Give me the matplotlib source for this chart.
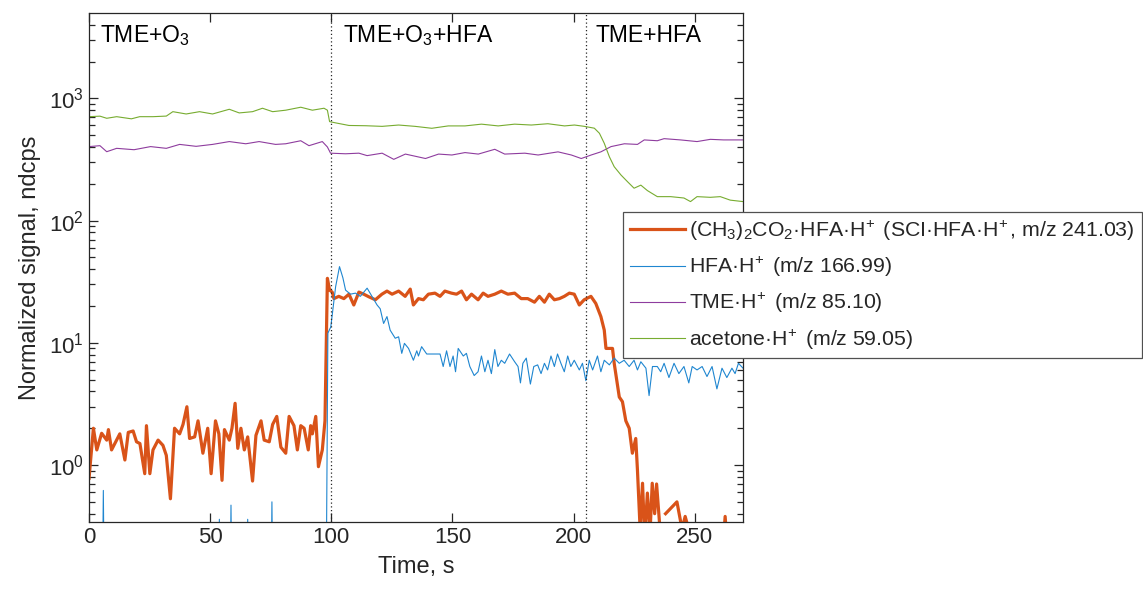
import numpy as np
import matplotlib
matplotlib.use("Agg")
import matplotlib.pyplot as plt
from matplotlib.ticker import FixedLocator, NullFormatter

# ── Data ─────────────────────────────────────────────────────
# SCI·HFA·H+ (orange, thick)
t_sci = [0, 1.8, 3.2, 5.2, 7.3, 8, 9.3, 11.4, 12.7, 14.8, 16.2, 18.2, 19.6, 21,
         23, 23.7, 25.1, 26.4, 28.5, 30.5, 31.9, 33.6, 35.3, 37.4, 38.8, 40.4,
         41.5, 43.6, 45, 47, 49, 50.4, 52.2, 53.6, 54.9, 55.9, 57.9, 59, 60.3,
         61.4, 62.7, 64.1, 65.5, 67.5, 68.9, 71, 72.3, 74.4, 75.8, 77.5, 79.2,
         81.2, 82.6, 84.6, 86, 87.4, 88.8, 90.5, 91.5, 92.2, 93.6, 94.7, 96.3,
         97.4, 98.4, 99.3, 100.4, 101.1, 103.1, 105.2, 107.3, 109.3, 111.4,
         113.4, 115.5, 118.2, 120.9, 123, 125.1, 127.8, 130.5, 132.6, 133.9,
         136, 138, 140.1, 142.8, 144.9, 146.9, 149.6, 151.7, 153.8, 155.8,
         157.9, 160.6, 162.7, 164.7, 167.5, 170.2, 172.9, 175.7, 178.4, 181.1,
         183.9, 185.9, 188, 190, 192.1, 194.2, 196.2, 198.3, 200.3, 202.4,
         204.4, 207.2, 209.2, 211.3, 212.7, 213.4, 216.1, 216.8, 218.9, 220.2,
         221.6, 223, 224.3, 225.7, 226.4, 227.5, 228.5, 229.4, 230.5, 231.6,
         232.5, 233.5, 234.3, 235.7, 237, 238, 242.7, 244.8, 246.1, 247.5, 252,
         261.6, 262.6, 263.6, 270]
v_sci = [0.78, 2.0, 1.33, 1.82, 1.6, 1.95, 1.33, 1.6, 1.8, 1.1, 1.85, 1.9, 1.55,
         1.5, 0.85, 2.1, 0.85, 1.33, 1.6, 1.45, 1.2, 0.53, 2.0, 1.8, 2.15, 3.0,
         1.65, 1.7, 2.3, 1.25, 2.0, 0.85, 2.3, 1.8, 0.75, 1.95, 1.6, 2.0, 3.2,
         1.37, 2.0, 1.33, 1.7, 0.74, 1.75, 2.3, 1.6, 1.55, 2.15, 2.5, 1.4,
         1.25, 2.5, 2.1, 1.33, 2.1, 2.0, 1.33, 2.1, 1.8, 2.5, 0.97, 1.33,
         2.3, 33.7, 27, 26, 23, 24, 23, 25, 20.4, 26,
         25, 23.8, 22.5, 25, 26.5, 25, 26.5, 24, 27.5, 20.4,
         23, 22.5, 25, 25.5, 24, 26.5, 25.5, 25, 26.5, 22.5,
         25, 22.5, 25.5, 24, 25, 26.5, 25, 25.5, 23, 23,
         21.5, 24, 21.5, 25, 22.5, 23, 24, 25.5, 25, 20.4,
         22.5, 24, 21, 16.4, 12.7, 9.0, 9.0, 6.8, 3.6, 3.3,
         2.3, 2.0, 1.25, 1.65, 0.91, 0.3, 0.71, 0.25, 0.59, 0.28,
         0.71, 0.40, 0.70, 0.3, np.nan, 0.40, 0.5, 0.3, 0.38, 0.3, 0.2,
         0.2, 0.38, 0.2, 0.2]

# HFA·H+ (blue)
t_hfa = [0, 5.4, 5.9, 6.4, 53.4, 53.8, 54.2, 58.1, 58.6, 59.1, 65.1, 65.5,
         65.9, 75.0, 75.5, 76.0, 97.8, 98.6, 99.8, 101.8, 103.4, 104.8, 105.9,
         107.9, 110, 112, 114.8, 116.8, 118.9, 120.2, 121.6, 123, 124.3, 126.4,
         127.8, 129.1, 130.2, 131.9, 133.9, 135.3, 136, 137.3, 139.4, 142.8,
         144.9, 146.2, 147.6, 149, 150.3, 151.3, 152.4, 154.5, 155.8, 157.2,
         159, 160.6, 162, 163.4, 164.7, 166.1, 167.5, 168.8, 170.2, 171.6,
         173.6, 175.7, 177.1, 178.1, 179.1, 180.5, 182.2, 183.6, 185.2, 186.6,
         188, 189.3, 190.7, 192.1, 193.4, 194.8, 196.2, 197.6, 198.9, 200.3,
         202.4, 203.7, 205.1, 206.5, 207.9, 209.9, 211.3, 212.7, 214.8, 216.8,
         218.9, 220.9, 223, 225, 226.4, 227.8, 229.9, 231.2, 232.6, 234.6, 236,
         237.4, 239.4, 241.5, 243.5, 245.6, 247.6, 249, 251, 253.1, 255.1,
         257.2, 259.2, 261.3, 263.3, 265.4, 266.7, 268.1, 270]
v_hfa = [0.05, 0.05, 0.62, 0.05, 0.05, 0.36, 0.05, 0.05, 0.47, 0.05, 0.05, 0.36,
         0.05, 0.05, 0.5, 0.05, 0.05, 12, 13.5, 28.8, 42, 34, 27,
         25, 25.5, 24, 28, 24, 20.4, 19, 14.4, 16.4, 12.7, 10.9,
         11.2, 8.2, 9.9, 9.0, 7.2, 8.6, 7.8, 9.3, 8.1, 8.1,
         8.1, 6.4, 8.6, 6.4, 7.8, 5.8, 9.0, 7.8, 8.2, 6.4,
         5.4, 5.8, 7.8, 5.8, 7.2, 5.6, 8.8, 6.4, 7.2, 6.8,
         8.1, 7.0, 6.4, 4.7, 6.8, 7.5, 4.6, 6.4, 6.6, 5.6,
         6.8, 6.0, 7.8, 6.4, 8.1, 6.8, 5.8, 7.8, 6.4, 7.2,
         6.0, 6.8, 4.9, 7.2, 6.0, 7.8, 5.8, 7.2, 6.6, 7.5,
         6.8, 7.2, 6.4, 7.2, 6.0, 7.0, 6.2, 3.7, 6.4, 6.4, 5.8,
         6.8, 5.2, 6.8, 5.6, 6.4, 4.7, 6.4, 6.0, 6.4, 5.3,
         6.4, 4.2, 6.2, 5.2, 6.2, 5.6, 6.8, 6.2]

# TME·H+ (purple)
t_tme = [0, 4.5, 7.3, 11.4, 18.6, 25.4, 31.9, 37.4, 44.2, 51, 57.9, 64.7, 70.2,
         77, 81.2, 87.4, 90.8, 96.3, 98.4, 99.7, 105.9, 111.4, 114.8, 121,
         125.8, 130.6, 138.9, 144.3, 149.8, 155.2, 160.7, 167.5, 171.6, 179.9,
         185.4, 193.6, 199.1, 203.2, 207.3, 211.3, 215.5, 221, 226.4, 229.2,
         234.6, 237.4, 244.2, 251, 256.5, 262, 270]
v_tme = [403, 410, 366, 390, 380, 403, 390, 420, 405, 420, 443, 425, 443,
         420, 425, 450, 410, 443, 400, 356, 352, 356, 340, 356,
         317, 350, 322, 350, 344, 360, 350, 383, 350, 356,
         344, 365, 344, 322, 344, 365, 403, 425, 420, 457,
         450, 468, 457, 443, 462, 457, 457]

# acetone·H+ (green)
t_ace = [0, 4.5, 7.3, 11.4, 17.5, 20.9, 26.4, 31.9, 34.6, 40.1, 45.6, 51, 57.9,
         62, 67.5, 71.6, 75.8, 81.2, 87.4, 92.2, 97, 98.4, 99.3, 101.8, 107.3,
         114.2, 121, 127.8, 134.6, 141.5, 148.3, 155.2, 162, 168.9, 175.7,
         182.6, 189.4, 196.3, 200.4, 204.5, 208.6, 210.7, 212.7, 214.8, 216.8,
         219.6, 222.3, 225, 227.8, 230.5, 234.6, 240.1, 245.6, 248.3, 251,
         256.5, 260.6, 264.7, 270]
v_ace = [708, 715, 687, 708, 680, 708, 708, 716, 778, 745, 778, 745, 814,
         760, 778, 830, 778, 800, 846, 800, 830, 800, 645, 630, 600,
         597, 590, 605, 590, 569, 595, 595, 615, 595, 615,
         605, 620, 595, 605, 590, 570, 518, 429, 333, 276,
         236, 208, 184, 195, 176, 157, 157, 153, 143, 157,
         155, 157, 147, 143]

phase_starts = [100, 205]
phase_labels = ["TME+O$_3$", "TME+O$_3$+HFA", "TME+HFA"]
phase_label_x = [4.5, 105, 209]

labels = [
    r"(CH$_3$)$_2$CO$_2$·HFA·H$^{\!+}$ (SCI·HFA·H$^{\!+}$, m/z 241.03)",
    r"HFA·H$^{\!+}$ (m/z 166.99)",
    r"TME·H$^{\!+}$ (m/z 85.10)",
    r"acetone·H$^{\!+}$ (m/z 59.05)",
]

# ── Style ────────────────────────────────────────────────────
plt.rcParams["font.family"] = ["Liberation Sans", "DejaVu Sans"]
plt.rcParams["mathtext.fontset"] = "custom"
plt.rcParams["mathtext.rm"] = "Liberation Sans"
plt.rcParams["mathtext.it"] = "Liberation Sans:italic"
plt.rcParams["mathtext.bf"] = "Liberation Sans:bold"
ink = "#262626"

fig = plt.figure(figsize=(11.43, 5.97), dpi=100)
ax = fig.add_axes([0.0779, 0.1256, 0.5722, 0.8526])

l1, = ax.plot(t_sci, v_sci, color="#D95319", lw=2.3)
l2, = ax.plot(t_hfa, v_hfa, color="#1f86d0", lw=0.8)
l3, = ax.plot(t_tme, v_tme, color="#8e3c9e", lw=0.8)
l4, = ax.plot(t_ace, v_ace, color="#77AC30", lw=0.8)

for x in phase_starts:
    ax.axvline(x, color=ink, lw=0.9, linestyle=(0, (1, 2)))

for x, s in zip(phase_label_x, phase_labels):
    ax.text(x, 0.943, s, transform=ax.get_xaxis_transform(),
            fontsize=16.5, color="black", va="baseline", ha="left")

ax.set_yscale("log")
ax.set_xlim(0, 270)
ax.set_xticks([0, 50, 100, 150, 200, 250])
ax.set_yticks([1, 10, 100, 1000])
# MATLAB-style minor ticks 2..9 in every decade
minor = [k * 10.0 ** d for d in range(-1, 4) for k in range(2, 10)]
ax.yaxis.set_minor_locator(FixedLocator(minor))
ax.yaxis.set_minor_formatter(NullFormatter())
ax.set_ylim(0.342, 4990)

ax.tick_params(which="both", direction="in", top=True, right=True,
               colors=ink, labelsize=16)
ax.tick_params(which="major", length=6.5, width=0.9)
ax.tick_params(axis="y", which="minor", length=4.5, width=0.9, left=True, right=True)
for sp in ax.spines.values():
    sp.set_color(ink)
    sp.set_linewidth(0.9)

ax.set_xlabel("Time, s", fontsize=17, color=ink, labelpad=6)
ax.set_ylabel("Normalized signal, ndcps", fontsize=17, color=ink, labelpad=6)

leg = ax.legend([l1, l2, l3, l4], labels, loc="upper left",
                bbox_to_anchor=(623 / 1143, 1 - 212 / 597),
                bbox_transform=fig.transFigure, borderaxespad=0,
                fontsize=15.3, frameon=True, fancybox=False, framealpha=1,
                handlelength=2.6, handletextpad=0.2, labelspacing=0.57,
                borderpad=0.32)
leg.get_frame().set_edgecolor("#505050")
leg.get_frame().set_linewidth(0.9)
for txt in leg.get_texts():
    txt.set_color(ink)

fig.savefig("out.png", dpi=100)
